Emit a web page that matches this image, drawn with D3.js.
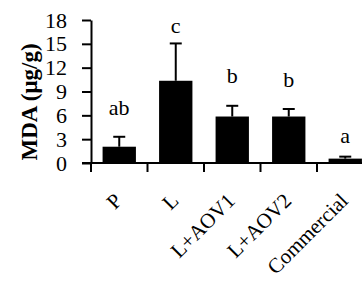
<!DOCTYPE html>
<html lang="en">
<head>
    <meta charset="UTF-8">
    <title>MDA Bar Chart</title>
    <script src="https://d3js.org/d3.v7.min.js"></script>
    <style>
        body {
            margin: 0;
            background: #fff;
        }
        svg {
            display: block;
            font-family: "Liberation Serif", "Times New Roman", serif;
        }
        .bar {
            fill: #000;
        }
        .axis path, .axis line {
            stroke: #000;
            stroke-width: 2px;
        }
        .axis text {
            font-family: "Liberation Serif", "Times New Roman", serif;
            font-size: 22px;
            fill: #000;
        }
        .axis .xlab {
            font-size: 21px;
        }
    </style>
</head>
<body>
    <svg width="362" height="282"></svg>

    <script>
        // Data
        const groups = ["P", "L", "L+AOV1", "L+AOV2", "Commercial"];
        const means = [2.05, 10.35, 5.85, 5.85, 0.55];
        const errors = [1.25, 4.7, 1.35, 0.95, 0.25];
        const letters = ["ab", "c", "b", "b", "a"];
        const letterPos = [6.05, 16.4, 10.1, 9.6, 2.5];
        const yTicks = [0, 3, 6, 9, 12, 15, 18];

        const width = 362;
        const height = 282;
        const margin = { top: 20, left: 91, bottom: 119 };
        const step = 56.5;

        const svg = d3.select("svg");

        const x = d3.scaleBand()
            .domain(groups)
            .range([margin.left, margin.left + step * groups.length])
            .paddingInner(0.41)
            .paddingOuter(0.205);

        const y = d3.scaleLinear()
            .domain([0, 18])
            .range([height - margin.bottom, margin.top]);

        // bars
        svg.selectAll(".bar")
            .data(groups)
            .join("rect")
            .attr("class", "bar")
            .attr("x", d => x(d))
            .attr("y", (d, i) => y(means[i]))
            .attr("width", x.bandwidth())
            .attr("height", (d, i) => y(0) - y(means[i]));

        // error bars (upper only)
        const err = svg.append("g")
            .attr("stroke", "#000")
            .attr("stroke-width", 2);
        groups.forEach((g, i) => {
            const cx = x(g) + x.bandwidth() / 2;
            err.append("line")
                .attr("x1", cx).attr("x2", cx)
                .attr("y1", y(means[i])).attr("y2", y(means[i] + errors[i]));
            err.append("line")
                .attr("x1", cx - 6).attr("x2", cx + 6)
                .attr("y1", y(means[i] + errors[i])).attr("y2", y(means[i] + errors[i]));
        });

        // significance letters
        svg.selectAll(".letter")
            .data(groups)
            .join("text")
            .attr("class", "letter")
            .attr("x", d => x(d) + x.bandwidth() / 2)
            .attr("y", (d, i) => y(letterPos[i]))
            .attr("text-anchor", "middle")
            .style("font-size", "22px")
            .text((d, i) => letters[i]);

        // Y axis
        svg.append("g")
            .attr("class", "axis")
            .attr("transform", `translate(${margin.left}, 0)`)
            .call(d3.axisLeft(y).tickValues(yTicks).tickSize(9).tickSizeOuter(0).tickPadding(15));

        // X axis with ticks at category boundaries
        const xAxis = svg.append("g")
            .attr("class", "axis")
            .attr("transform", `translate(0, ${y(0)})`);
        xAxis.append("line")
            .attr("x1", margin.left - 9).attr("x2", margin.left + step * groups.length)
            .attr("y1", 0).attr("y2", 0);
        d3.range(groups.length + 1).forEach(i => {
            xAxis.append("line")
                .attr("x1", margin.left + step * i).attr("x2", margin.left + step * i)
                .attr("y1", 0).attr("y2", 9);
        });
        xAxis.selectAll(".xlab")
            .data(groups)
            .join("text")
            .attr("class", "xlab")
            .attr("text-anchor", "end")
            .attr("transform", d => `translate(${x(d) + x.bandwidth() / 2 + 4}, 39) rotate(-45)`)
            .text(d => d);

        // Y axis label
        svg.append("text")
            .attr("transform", "translate(37, 102) rotate(-90)")
            .attr("text-anchor", "middle")
            .style("font-size", "23px")
            .style("font-weight", "bold")
            .text("MDA (μg/g)");
    </script>
</body>
</html>
